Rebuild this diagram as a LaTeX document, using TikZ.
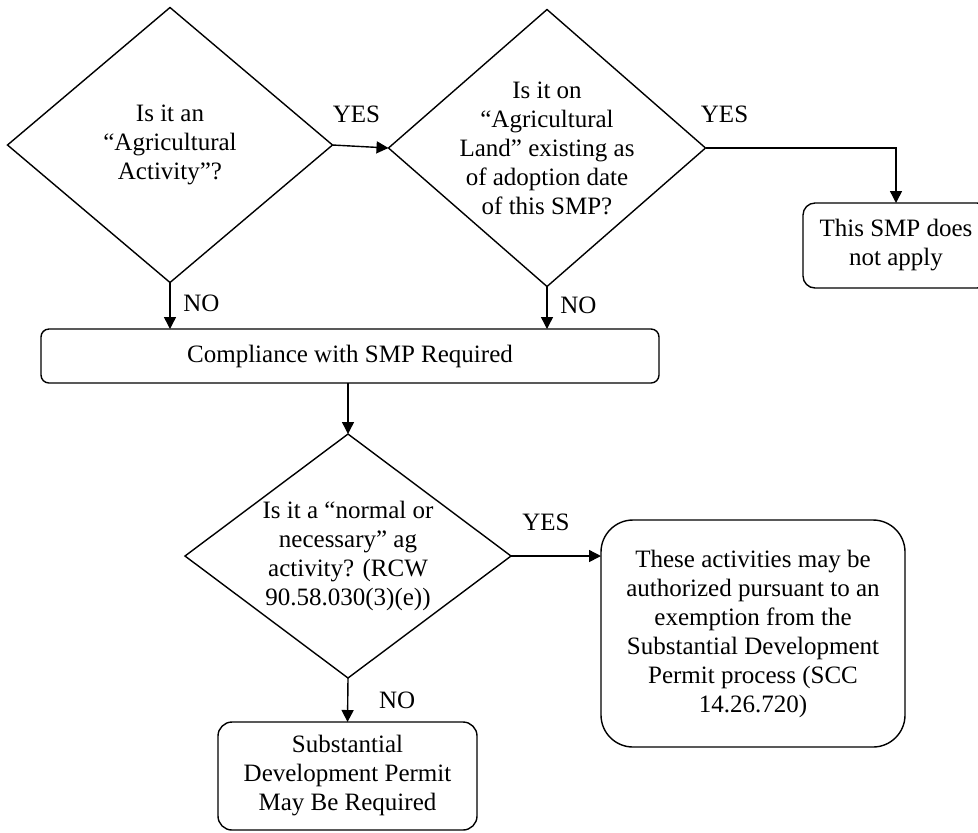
\documentclass[tikz,border=0pt]{standalone}
\usepackage{fontspec}
\setmainfont{Liberation Serif}
\usetikzlibrary{shapes.geometric,arrows.meta}

\begin{document}
\begin{tikzpicture}[x=0.5pt,y=-0.5pt,line width=0.7pt,-{Triangle[length=6pt,width=6pt]},
  font=\fontsize{12.5}{14.5}\selectfont,
  question/.style={diamond,draw,inner sep=0pt,outer sep=0pt},
  outcome/.style={rectangle,draw,align=center,inner sep=0pt,outer sep=0pt}]
\useasboundingbox (0,0) rectangle (978,832);
\node[question,minimum width=162.5pt,minimum height=137.5pt,
  label={[align=center]center:Is it an\\“Agricultural\\Activity”?}] (agri) at (170,145) {};
\node[question,minimum width=158.5pt,minimum height=138.5pt,
  label={[align=center]center:Is it on\\“Agricultural\\Land” existing as\\of adoption date\\of this SMP?}] (land) at (547,148) {};
\node[outcome,rounded corners=6pt,minimum width=93pt,minimum height=42.5pt] (notapply) at (896,245.5) {This SMP does\\not apply};
\node[outcome,rounded corners=4pt,minimum width=309pt,minimum height=27pt] (comp) at (350,356) {Compliance with SMP Required};
\node[question,minimum width=163pt,minimum height=122pt,
  label={[align=center]center:Is it a “normal or\\necessary” ag\\activity? (RCW\\90.58.030(3)(e))}] (normal) at (348,556) {};
\node[outcome,rounded corners=16pt,minimum width=152pt,minimum height=113.5pt] (exempt) at (753,633.5) {These activities may be\\authorized pursuant to an\\exemption from the\\Substantial Development\\Permit process (SCC\\14.26.720)};
\node[outcome,rounded corners=7pt,minimum width=129.5pt,minimum height=54pt] (sdp) at (347.5,776) {Substantial\\Development Permit\\May Be Required};

\draw (agri.east) -- node[above=8pt,xshift=-2pt] {YES} (land.west);
\draw (land.east) -| node[pos=0.05,above=9pt] {YES} (notapply.north);
\draw (agri.south) -- node[right=3pt,yshift=1pt] {NO} (agri.south |- comp.north);
\draw (land.south) -- node[right=3pt,yshift=1pt] {NO} (land.south |- comp.north);
\draw (comp.south -| normal.north) -- (normal.north);
\draw (normal.east) -- node[above=9pt,xshift=-5pt] {YES} (normal.east -| exempt.west);
\draw (normal.south) -- node[right=12pt] {NO} (sdp.north);
\end{tikzpicture}
\end{document}
